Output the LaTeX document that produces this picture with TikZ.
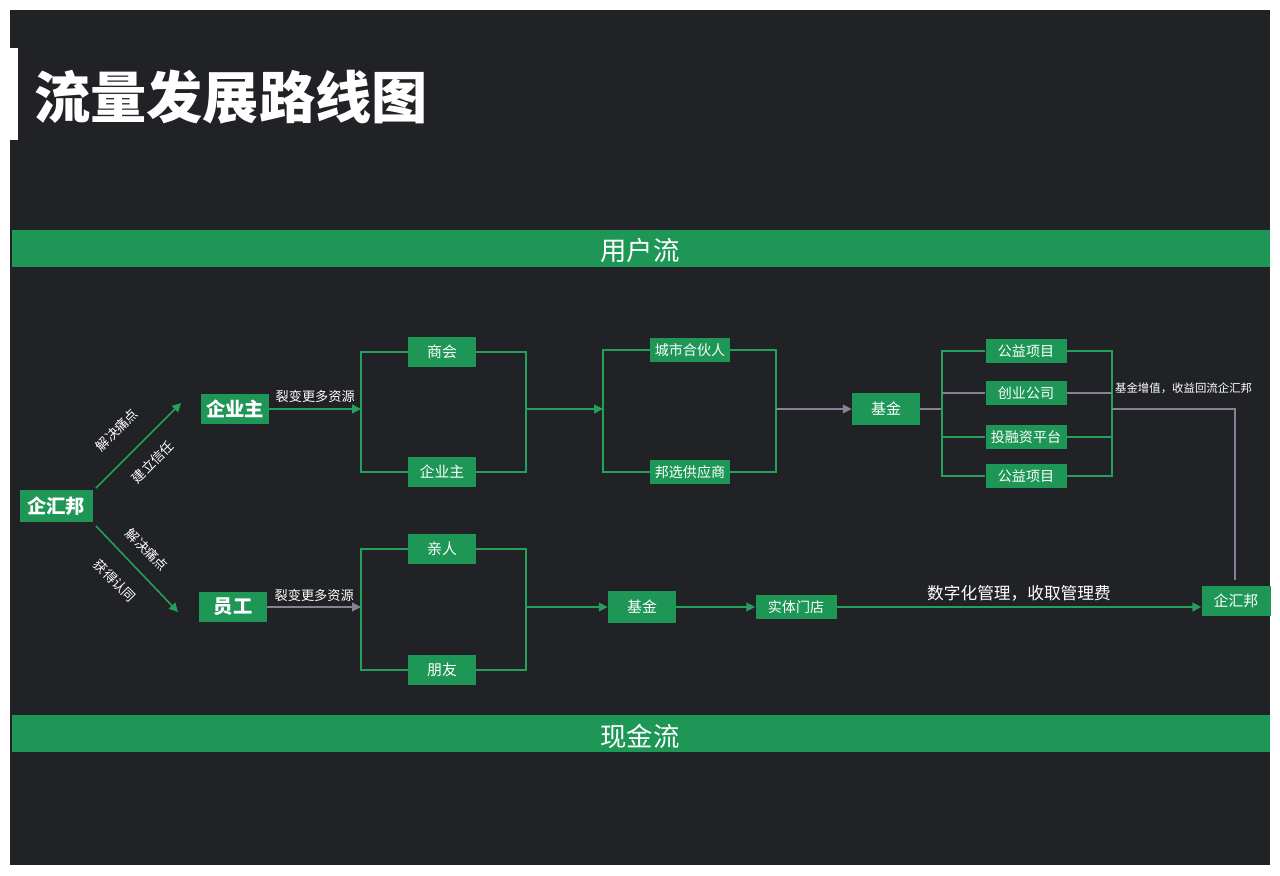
\documentclass[tikz,border=0pt]{standalone}
\usepackage{fontspec}
\setmainfont{Noto Sans CJK SC}
\usetikzlibrary{arrows.meta, positioning}
\definecolor{bgdark}{HTML}{212226}
\definecolor{qgreen}{HTML}{1D9656}
\definecolor{lgreen}{HTML}{23A05A}
\definecolor{lgray}{HTML}{8A7F95}
\tikzstyle{box} = [rectangle, fill=qgreen, text=white, minimum width=68\px, minimum height=30\px, inner sep=0pt, font=\fontsize{8.5}{10}\selectfont]
\tikzstyle{bigbox} = [box, font=\bfseries\fontsize{11}{13}\selectfont]
\tikzstyle{smallbox} = [box, minimum width=81\px, minimum height=24\px, font=\fontsize{8}{10}\selectfont]
\tikzstyle{line} = [lgreen, line width=0.9pt]
\tikzstyle{arr} = [line, -{Triangle[length=5pt,width=5pt]}]
\tikzstyle{lbl} = [text=white, font=\fontsize{7.5}{9}\selectfont, inner sep=1pt]
\newlength{\px}\setlength{\px}{0.02cm}

\begin{document}
\begin{tikzpicture}[x=0.02cm, y=-0.02cm]
\useasboundingbox (0,0) rectangle (1280,875);
\fill[white] (0,0) rectangle (1280,875);
\fill[bgdark] (10,10) rectangle (1270,865);
\fill[white] (10,48) rectangle (18,140);
\node (title) [text=white, anchor=west, font=\bfseries\fontsize{32}{36}\selectfont] at (28,97) {流量发展路线图};

% banners
\fill[qgreen] (12,230) rectangle (1270,267);
\node (user) [text=white, font=\fontsize{15}{18}\selectfont] at (640,250) {用户流};
\fill[qgreen] (12,715) rectangle (1270,752);
\node (cash) [text=white, font=\fontsize{15}{18}\selectfont] at (640,736) {现金流};

% nodes
\node (qhb) [bigbox, minimum width=73\px, minimum height=32\px] at (56,506) {企汇邦};
\node (boss) [bigbox] at (235,409) {企业主};
\node (staff) [bigbox] at (233,607) {员工};
\node (chamber) [box] at (442,352) {商会};
\node (boss2) [box] at (442,472) {企业主};
\node (kin) [box] at (442,549) {亲人};
\node (friend) [box] at (442,670) {朋友};
\node (partner) [smallbox, minimum width=80\px] at (690,350) {城市合伙人};
\node (supplier) [smallbox, minimum width=80\px] at (690,472) {邦选供应商};
\node (fund1) [box, minimum height=32\px] at (886,409) {基金};
\node (charity1) [smallbox] at (1026,351) {公益项目};
\node (startup) [smallbox] at (1026,393) {创业公司};
\node (invest) [smallbox] at (1026,437) {投融资平台};
\node (charity2) [smallbox] at (1026,476) {公益项目};
\node (fund2) [box, minimum height=32\px] at (642,607) {基金};
\node (store) [smallbox] at (796,607) {实体门店};
\node (qhb2) [box, minimum width=69\px] at (1236,601) {企汇邦};

% bracket points
\coordinate (b1l) at (361,409);
\coordinate (b1r) at (526,409);
\coordinate (b2l) at (603,409);
\coordinate (b2r) at (776,409);
\coordinate (b3l) at (942,409);
\coordinate (b3r) at (1112,409);
\coordinate (b4l) at (361,607);
\coordinate (b4r) at (526,607);
\coordinate (drop) at (1235,580);

% upper flow
\draw [arr] (96,488) -- (181,403);
\node [lbl, rotate=45] at (117,430) {解决痛点};
\node [lbl, rotate=45] at (153,462) {建立信任};
\draw [arr] (boss.east) -- node[lbl, above=2pt] {裂变更多资源} (b1l);
\draw [line] (chamber.west) -| (b1l) |- (boss2.west);
\draw [line] (chamber.east) -| (b1r) |- (boss2.east);
\draw [arr] (b1r) -- (b2l);
\draw [line] (partner.west) -| (b2l) |- (supplier.west);
\draw [line] (partner.east) -| (b2r) |- (supplier.east);
\draw [arr, lgray, line width=0.6pt] (b2r) -- (fund1.west);
\draw [line, lgray, line width=0.6pt] (fund1.east) -- (b3l);
\draw [line] (charity1.west) -| (b3l) |- (charity2.west);
\draw [line] (b3l |- invest) -- (invest.west);
\draw [line, lgray, line width=0.6pt] (b3l |- startup) -- (startup.west);
\draw [line] (charity1.east) -| (b3r) |- (charity2.east);
\draw [line] (invest.east) -- (b3r |- invest);
\draw [line, lgray, line width=0.6pt] (startup.east) -- (b3r |- startup);
\draw [line, lgray, line width=0.6pt] (b3r) -| (drop);
\node [lbl, anchor=west, font=\fontsize{6.5}{8}\selectfont] at (1113,388) {基金增值，收益回流企汇邦};

% lower flow
\draw [arr] (96,526) -- (178,612);
\node [lbl, rotate=-45] at (147,550) {解决痛点};
\node [lbl, rotate=-45] at (115,581) {获得认同};
\draw [arr, lgray, line width=0.6pt] (staff.east) -- node[lbl, above=2pt] {裂变更多资源} (b4l);
\draw [line] (kin.west) -| (b4l) |- (friend.west);
\draw [line] (kin.east) -| (b4r) |- (friend.east);
\draw [arr] (b4r) -- (fund2.west);
\draw [arr] (fund2.east) -- (store.west);
\draw [arr] (store.east) -- node[lbl, above=2pt, font=\fontsize{9.5}{11}\selectfont] {数字化管理，收取管理费} (store.east -| qhb2.west);
\end{tikzpicture}
\end{document}
